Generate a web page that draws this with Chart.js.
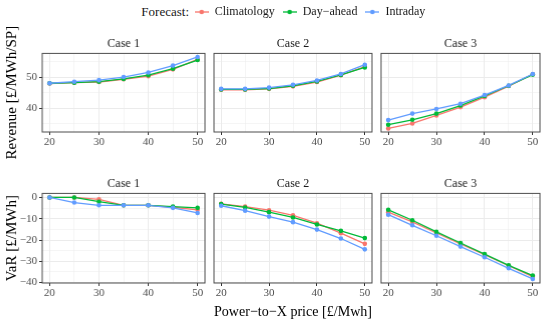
<!DOCTYPE html>
<html>
<head>
<meta charset="utf-8">
<script src="https://cdn.jsdelivr.net/npm/chart.js@4.4.0/dist/chart.umd.min.js"></script>
<style>
  body { margin: 0; background: #fff; }
  #wrap { position: relative; width: 550px; height: 324px; overflow: hidden; }
  #wrap canvas { position: absolute; }
  #ftitle { position: absolute; left: 100px; width: 89px; top: 4px; text-align: right;
            font-family: "Liberation Serif", serif; font-size: 13px; color: #1a1a1a; }
</style>
</head>
<body>
<div id="wrap"><div id="ftitle">Forecast:</div></div>
<script>
// x values (Power-to-X price)
const prices = [20, 25, 30, 35, 40, 45, 50];
const forecasts = ['Climatology', 'Day\u2212ahead', 'Intraday'];
const colors = ['#F8766D', '#00BA38', '#619CFF'];
const cases = ['Case 1', 'Case 2', 'Case 3'];

// tick marks (major every 10, minor every 5)
const xTicks = [20, 25, 30, 35, 40, 45, 50];
const revTicks = [35, 40, 45, 50, 55];
const varTicks = [0, -5, -10, -15, -20, -25, -30, -35, -40];

// Revenue [£/MWh/SP]
const revCase1Clim = [48.0, 48.3, 48.5, 49.4, 50.4, 52.6, 55.8];
const revCase1DA   = [48.1, 48.3, 48.6, 49.5, 50.7, 52.8, 55.6];
const revCase1ID   = [48.1, 48.6, 49.1, 50.1, 51.6, 53.8, 56.6];
const revCase2Clim = [46.0, 46.0, 46.3, 47.1, 48.5, 50.7, 53.5];
const revCase2DA   = [46.1, 46.1, 46.4, 47.3, 48.7, 50.8, 53.2];
const revCase2ID   = [46.3, 46.3, 46.7, 47.6, 49.0, 51.1, 54.1];
const revCase3Clim = [33.5, 35.1, 37.7, 40.4, 43.6, 47.2, 51.0];
const revCase3DA   = [34.7, 36.3, 38.3, 40.9, 44.0, 47.3, 50.9];
const revCase3ID   = [36.2, 38.3, 39.8, 41.5, 44.3, 47.4, 51.1];

// VaR [£/MWh]
const varCase1Clim = [0, 0, -0.9, -3.7, -3.7, -4.6, -5.8];
const varCase1DA   = [0, 0, -2.0, -3.7, -3.7, -4.3, -4.9];
const varCase1ID   = [0, -2.4, -3.7, -3.7, -3.7, -4.9, -7.3];
const varCase2Clim = [-3.0, -4.3, -6.0, -8.4, -12.1, -16.8, -21.8];
const varCase2DA   = [-3.1, -4.7, -6.9, -9.4, -12.7, -15.7, -19.1];
const varCase2ID   = [-3.9, -6.2, -9.0, -11.6, -15.1, -19.3, -24.4];
const varCase3Clim = [-6.9, -11.5, -16.7, -21.8, -26.9, -32.1, -37.2];
const varCase3DA   = [-5.8, -10.7, -16.2, -21.4, -26.6, -31.9, -36.7];
const varCase3ID   = [-8.1, -13.1, -18.0, -23.1, -28.1, -33.3, -38.3];

const revenue = [
  [revCase1Clim, revCase1DA, revCase1ID],
  [revCase2Clim, revCase2DA, revCase2ID],
  [revCase3Clim, revCase3DA, revCase3ID]
];
const valueAtRisk = [
  [varCase1Clim, varCase1DA, varCase1ID],
  [varCase2Clim, varCase2DA, varCase2ID],
  [varCase3Clim, varCase3DA, varCase3ID]
];

const SERIF = '"Liberation Serif", "Times New Roman", serif';
const wrap = document.getElementById('wrap');

// layout of the facet grid
const colLeft = [42, 209.5, 377];
const panelW = 162.5;
const rows = [
  { top: 53, h: 79, min: 32.35, max: 57.75, ticks: revTicks, data: revenue, title: 'Revenue [£/MWh/SP]' },
  { top: 193, h: 90.5, min: -40.2, max: 1.9, ticks: varTicks, data: valueAtRisk, title: 'VaR [£/MWh]' }
];
const titleH = 14.4 + 2;
const padRight = 8;

const frame = {
  id: 'frame',
  afterDraw(chart) {
    const a = chart.chartArea, ctx = chart.ctx;
    ctx.save();
    ctx.strokeStyle = '#4d4d4d';
    ctx.lineWidth = 1;
    ctx.strokeRect(a.left, a.top, a.right - a.left, a.bottom - a.top);
    ctx.restore();
  }
};

const isMajor = v => v % 10 === 0;
const fmt = v => isMajor(v) ? String(v).replace('-', '\u2212') : '';

function makePanel(r, c) {
  const row = rows[r];
  const yW = c === 0 ? colLeft[0] : 0;
  const withXTitle = (r === 1 && c === 1);
  const xH = withXTitle ? 38 : 22;
  // extra room above/below the first column so the rotated y title is not cut
  const padV = c === 0 ? 30 : 0;
  const canvas = document.createElement('canvas');
  const w = yW + panelW + padRight;
  const h = padV + titleH + row.h + xH + padV;
  canvas.width = w; canvas.height = h;
  canvas.style.left = (c === 0 ? 0 : colLeft[c]) + 'px';
  canvas.style.top = (row.top - titleH - padV) + 'px';
  canvas.style.width = w + 'px'; canvas.style.height = h + 'px';
  wrap.appendChild(canvas);

  const datasets = forecasts.map((f, k) => ({
    label: f,
    data: prices.map((x, i) => ({ x: x, y: row.data[c][k][i] })),
    borderColor: colors[k],
    backgroundColor: colors[k],
    borderWidth: 1.3,
    pointRadius: 2.3,
    pointBorderWidth: 0,
    tension: 0,
    order: 2 - k
  }));

  new Chart(canvas, {
    type: 'line',
    data: { datasets: datasets },
    options: {
      responsive: false,
      animation: false,
      devicePixelRatio: 1,
      layout: { padding: { left: 0, right: padRight, top: padV, bottom: padV } },
      plugins: {
        legend: { display: false },
        tooltip: { enabled: false },
        title: {
          display: true, text: cases[c], fullSize: false, color: '#1a1a1a',
          font: { family: SERIF, size: 12, weight: 'normal' }, padding: { top: 0, bottom: 2 }
        }
      },
      scales: {
        x: {
          type: 'linear', min: 18.5, max: 51.5,
          afterBuildTicks: s => { s.ticks = xTicks.map(v => ({ value: v })); },
          afterFit: s => { s.height = xH; s.paddingLeft = 0; s.paddingRight = 0; },
          ticks: { callback: fmt, font: { family: SERIF, size: 11 }, color: '#4d4d4d', padding: 1, maxRotation: 0, autoSkip: false },
          grid: {
            color: '#ebebeb',
            lineWidth: ctx => (ctx.tick && isMajor(ctx.tick.value)) ? 1 : 0.5,
            tickLength: 3,
            tickColor: ctx => (ctx.tick && isMajor(ctx.tick.value)) ? '#333333' : 'rgba(0,0,0,0)'
          },
          border: { display: false },
          title: {
            display: withXTitle, text: 'Power\u2212to\u2212X price [£/Mwh]', color: '#000',
            font: { family: SERIF, size: 15 }, padding: { top: 0, bottom: 0 }
          }
        },
        y: {
          type: 'linear', min: row.min, max: row.max,
          afterBuildTicks: s => { s.ticks = row.ticks.map(v => ({ value: v })); },
          afterFit: s => { s.width = yW; s.paddingTop = 0; s.paddingBottom = 0; },
          ticks: { display: c === 0, callback: fmt, font: { family: SERIF, size: 11 }, color: '#4d4d4d', padding: 2, autoSkip: false },
          grid: {
            color: '#ebebeb',
            lineWidth: ctx => (ctx.tick && isMajor(ctx.tick.value)) ? 1 : 0.5,
            tickLength: 3,
            drawTicks: c === 0,
            tickColor: ctx => (ctx.tick && isMajor(ctx.tick.value)) ? '#333333' : 'rgba(0,0,0,0)'
          },
          border: { display: false },
          title: {
            display: c === 0, text: row.title, color: '#000',
            font: { family: SERIF, size: 15 }, padding: { top: 3, bottom: 0 }
          }
        }
      }
    },
    plugins: [frame]
  });
}

for (let r = 0; r < rows.length; r++) {
  for (let c = 0; c < cases.length; c++) makePanel(r, c);
}

// legend: line + dot key, drawn by Chart.js legend
function keyGlyph(color) {
  const g = document.createElement('canvas');
  g.width = 14; g.height = 8;
  const x = g.getContext('2d');
  x.strokeStyle = color; x.lineWidth = 1.3;
  x.beginPath(); x.moveTo(0, 4); x.lineTo(14, 4); x.stroke();
  x.fillStyle = color;
  x.beginPath(); x.arc(7, 4, 2.3, 0, Math.PI * 2); x.fill();
  return g;
}

const legCanvas = document.createElement('canvas');
legCanvas.width = 320; legCanvas.height = 44;
legCanvas.style.left = '150px'; legCanvas.style.top = '-2px';
legCanvas.style.width = '320px'; legCanvas.style.height = '44px';
wrap.appendChild(legCanvas);

new Chart(legCanvas, {
  type: 'line',
  data: {
    datasets: forecasts.map((f, k) => ({ label: f, data: [], borderColor: colors[k], backgroundColor: colors[k], pointStyle: keyGlyph(colors[k]) }))
  },
  options: {
    responsive: false,
    animation: false,
    devicePixelRatio: 1,
    scales: { x: { display: false }, y: { display: false } },
    plugins: {
      tooltip: { enabled: false },
      legend: {
        display: true, position: 'top',
        labels: {
          usePointStyle: true, pointStyleWidth: 14, boxHeight: 8,
          font: { family: SERIF, size: 12 }, color: '#1a1a1a', padding: 8
        }
      }
    }
  }
});
</script>
</body>
</html>
